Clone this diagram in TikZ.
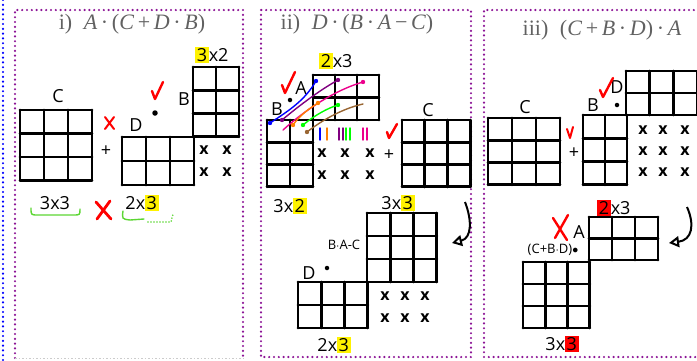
\documentclass[tikz,border=0pt]{standalone}
\usepackage{fontspec}
\newfontfamily\handfont{Open Sans}
\newfontfamily\ttlfont{Liberation Serif}
\usetikzlibrary{arrows.meta}

\definecolor{frmviolet}{RGB}{140,20,150}

% highlighted digits
\newcommand\hly[1]{{\setlength{\fboxsep}{1.5pt}\colorbox{yellow}{#1}}}
\newcommand\hlr[1]{{\setlength{\fboxsep}{1.5pt}\colorbox{red}{#1}}}

% matrix grid: name, x, y, cols, rows, cell width, cell height
\newcommand\mgrid[7]{%
  \coordinate (#1) at (#2,#3);
  \foreach \i in {0,...,#4}
    \draw[mat] ({#2+\i*#6},#3) -- ({#2+\i*#6},{#3+#5*#7});
  \foreach \j in {0,...,#5}
    \draw[mat] (#2,{#3+\j*#7}) -- ({#2+#4*#6},{#3+\j*#7});
}

\tikzset{
  mat/.style={line width=2.9pt,line cap=round},
  frm/.style={frmviolet,line width=2.4pt,line cap=round,dash pattern=on 0pt off 4.8pt},
  ttl/.style={text=black!62,font=\ttlfont\fontsize{22}{22}\selectfont},
  hand/.style={font=\handfont\fontsize{18}{18}\selectfont,inner sep=0pt},
  xm/.style={font=\handfont\bfseries\fontsize{16}{16}\selectfont,inner sep=0pt},
  chk/.style={red,line width=2.4pt,line cap=round,line join=round},
  brc/.style={green!60!olive!80,line width=1.4pt,line cap=round},
  pen/.style={line width=1.4pt,line cap=round},
  hdot/.style={circle,fill,inner sep=0pt,minimum size=4.5pt},
}

\begin{document}
\begin{tikzpicture}[x=1pt,y=-1pt]
\useasboundingbox (0,0) rectangle (697,360);

% frames
\draw[blue,line width=2.4pt,line cap=round,dash pattern=on 0pt off 4.8pt] (3,0) -- (3,360);
\draw[frm] (15,358) -- (15,10) -- (243,10) -- (243,358);
\draw[gray!40,line width=1pt,dash pattern=on 1.5pt off 2pt] (15,358) -- (243,358);
\draw[frm] (261,10) rectangle (471,357);
\draw[frm] (700,357) -- (484,357) -- (484,10) -- (700,10);

\node[ttl] (ti1) at (132,24) {i)\; \textit{A}\,·\,(\textit{C}\,+\,\textit{D}\,·\,\textit{B})};
\node[ttl] (ti2) at (357,24) {ii)\; \textit{D}\,·\,(\textit{B}\,·\,\textit{A}\,−\,\textit{C})};
\node[ttl] (ti3) at (602,30) {iii)\; (\textit{C}\,+\,\textit{B}\,·\,\textit{D})\,·\,\textit{A}};

%% ---- panel i
\mgrid{gC1}{20}{110}{3}{3}{24}{23.5}
\mgrid{gD1}{122}{137}{3}{2}{24}{24}
\mgrid{gB1}{193}{67}{2}{3}{23}{23.3}
\node[hand] (lC1) at (58,96) {C};
\node[hand] (lD1) at (136,125) {D};
\node[hand] (lB1) at (184,99) {B};
\node[hdot,minimum size=5.5pt] (dt1) at (155,113) {};
\draw[chk] (152,91) -- (155,99) -- (163,82);
\draw[chk,line width=2pt] (105,117) -- (114,129) (114,117) -- (105,129);
\node[hand] (pl1) at (106,151) {+};
\node[hand] (dB1) at (212,55) {\hly{3}x2};
\foreach \x in {204,227} \foreach \y in {150,172}
  \node[xm] (x1-\x-\y) at (\x,\y) {x};
\node[hand] (dC1) at (55,203) {3x3};
\draw[brc] (31,208) .. controls (31,215) .. (38,215) -- (73,215) .. controls (80,215) .. (80,209);
\draw[chk,line width=2.8pt] (96,202) -- (111,219) (110,201) -- (97,219);
\node[hand] (dD1) at (142,203) {2x\hly{3}};
\draw[brc] (123,211) .. controls (122,219) .. (130,220) -- (144,219);
\draw[brc,dash pattern=on 0pt off 3pt,line width=1.7pt] (148,222) -- (171,222) -- (173,214);

%% ---- panel ii
\mgrid{gA2}{313}{75}{3}{2}{22}{22.5}
\mgrid{gB2}{267}{120}{2}{3}{23}{22.3}
\mgrid{gC2}{402}{120}{3}{3}{22.7}{22.3}
\node[hand] (dA2) at (336,61) {\hly{2}x3};
\node[hand] (lB2) at (277,109) {B};
\node[hand] (lA2) at (301,88) {A};
\node[hdot] (dt2) at (290,100) {};
\draw[chk] (282,85) -- (285,93) -- (295,72);
% coloured pairings
\draw[pen,blue] (270,123) .. controls (290,110) and (305,100) .. (316,81);
\draw[pen,violet] (282,120) .. controls (300,105) and (320,90) .. (338,80);
\draw[pen,magenta] (283,130) .. controls (305,110) and (335,90) .. (363,82);
\draw[pen,orange] (293,125) .. controls (300,115) and (310,108) .. (318,103);
\draw[pen,green] (303,125) .. controls (315,115) and (328,108) .. (338,105);
\draw[pen,brown!80!black] (307,132) .. controls (325,118) and (345,108) .. (363,104);
\foreach \p/\c in {{(270,123)}/blue,{(316,81)}/blue,{(338,80)}/violet,{(363,82)}/magenta,{(293,125)}/orange,{(318,103)}/orange,{(303,125)}/green,{(338,105)}/green,{(307,132)}/brown!80!black,{(282,120)}/violet}
  \fill[\c] \p circle (2.2pt);
\foreach \x/\c in {320/blue,327/orange,339/violet,343/violet,346/green,350/green,363/magenta,367/magenta}
  \draw[pen,\c] (\x,128) -- (\x,140);
\foreach \x in {322,345,370} \foreach \y in {153,175}
  \node[xm] (x2-\x-\y) at (\x,\y) {x};
\node[hand] (pl2) at (389,155) {+};
\draw[chk] (387,132) -- (389,138) -- (397,124);
\node[hand] (lC2) at (428,110) {C};
\node[hand] (dB2) at (290,206) {3x\hly{2}};
\node[hand] (dC2) at (398,203) {3x\hly{3}};
\coordinate (a2s) at (465,202);
\coordinate (a2e) at (452,243);
\draw[line width=2pt,-{Triangle[open,length=10pt,width=11pt,line width=2pt]}] (a2s) .. controls (472,220) and (472,238) .. (a2e);
\mgrid{gR2}{367}{213}{3}{3}{23.3}{23}
\node[hand,font=\handfont\fontsize{13}{13}\selectfont] (lR2) at (344,245) {B$\cdot$A-C};
\node[hand] (lD2) at (309,273) {D};
\node[hdot] (dt3) at (327,268) {};
\mgrid{gD2}{298}{282}{3}{2}{23.3}{23}
\foreach \x in {385,405,425} \foreach \y in {296,318}
  \node[xm] (x3-\x-\y) at (\x,\y) {x};
\node[hand] (dD2) at (334,345) {2x\hly{3}};

%% ---- panel iii
\mgrid{gD3}{626}{71}{3}{2}{23.7}{22}
\mgrid{gB3}{583}{115}{2}{3}{22}{23.3}
\mgrid{gC3}{488}{118}{3}{3}{24}{22.3}
\node[hand] (lC3) at (525,107) {C};
\node[hand] (lB3) at (593,105) {B};
\node[hdot] (dt4) at (617,105) {};
\node[hand] (lD3) at (617,87) {D};
\draw[chk] (600,90) -- (603,97) -- (613,78);
\draw[chk,line width=2pt] (567,129) -- (570,138) -- (573,127);
\node[hand] (pl3) at (574,153) {+};
\foreach \x in {643,663,685} \foreach \y in {130,151,172}
  \node[xm] (x4-\x-\y) at (\x,\y) {x};
\node[hand] (dA3) at (614,208) {\hlr{2}x3};
\coordinate (a3s) at (687,207);
\coordinate (a3e) at (669,243);
\draw[line width=2pt,-{Triangle[open,length=10pt,width=11pt,line width=2pt]}] (a3s) .. controls (695,225) and (692,240) .. (a3e);
\mgrid{gA3}{589}{217}{3}{2}{23}{21.5}
\draw[chk,line width=2.4pt] (553,218) -- (567,240) (568,215) -- (555,238);
\node[hand] (lA3) at (579,232) {A};
\node[hand,font=\handfont\fontsize{13}{13}\selectfont] (lR3) at (553,250) {(C+B$\cdot$D)$\bullet$};
\mgrid{gR3}{523}{262}{3}{3}{22.3}{22}
\node[hand] (dR3) at (562,344) {3x\hlr{3}};
\end{tikzpicture}
\end{document}
